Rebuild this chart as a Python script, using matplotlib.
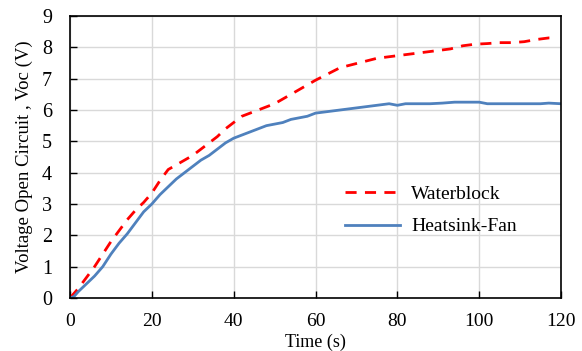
import matplotlib
matplotlib.use("Agg")
import matplotlib.pyplot as plt

# Waterblock (red dashed)
t_water = [0, 2, 4, 6, 8, 10, 12, 14, 16, 18, 20, 22, 24, 26, 28, 30, 32, 34, 36, 38, 40,
           42, 44, 46, 48, 50, 52, 54, 56, 58, 60, 63, 66, 69, 72, 75, 78, 81, 84, 87, 90,
           93, 96, 99, 102, 105, 108, 111, 114, 117, 119]
v_water = [0, 0.3, 0.65, 1.0, 1.4, 1.8, 2.15, 2.5, 2.8, 3.05, 3.35, 3.75, 4.1, 4.25, 4.4,
           4.55, 4.75, 4.95, 5.15, 5.4, 5.6, 5.8, 5.9, 6.0, 6.1, 6.2, 6.35, 6.5, 6.65, 6.8,
           6.95, 7.15, 7.35, 7.45, 7.55, 7.65, 7.7, 7.75, 7.8, 7.85, 7.9, 7.95, 8.05, 8.1,
           8.12, 8.15, 8.15, 8.18, 8.25, 8.3, 8.3]

# Heatsink-Fan (blue solid)
t_fan = [0, 1, 2, 4, 6, 8, 10, 12, 14, 16, 18, 20, 22, 24, 26, 28, 30, 32, 34, 36, 38, 40,
         42, 44, 46, 48, 50, 52, 54, 56, 58, 60, 63, 66, 69, 72, 75, 78, 80, 82, 85, 88,
         91, 94, 97, 100, 102, 105, 110, 115, 117, 120]
v_fan = [0, 0.05, 0.2, 0.45, 0.7, 1.0, 1.4, 1.75, 2.05, 2.4, 2.75, 3.0, 3.3, 3.55, 3.8,
         4.0, 4.2, 4.4, 4.55, 4.75, 4.95, 5.1, 5.2, 5.3, 5.4, 5.5, 5.55, 5.6, 5.7, 5.75,
         5.8, 5.9, 5.95, 6.0, 6.05, 6.1, 6.15, 6.2, 6.15, 6.2, 6.2, 6.2, 6.22, 6.25, 6.25,
         6.25, 6.2, 6.2, 6.2, 6.2, 6.22, 6.2]

x_ticks = [0, 20, 40, 60, 80, 100, 120]
y_ticks = [0, 1, 2, 3, 4, 5, 6, 7, 8, 9]

plt.rcParams['font.family'] = ['Liberation Serif', 'DejaVu Serif']

fig = plt.figure(figsize=(5.82, 3.51), dpi=100)
ax = fig.add_axes([70 / 582, 1 - 298 / 351, (561 - 70) / 582, (298 - 16) / 351])

ax.plot(t_water, v_water, color='#ff0000', lw=2.0, ls=(0, (4, 3)), label='Waterblock')
ax.plot(t_fan, v_fan, color='#4f81bd', lw=2.0, label='Heatsink-Fan')

ax.set_xlim(0, 120)
ax.set_ylim(0, 9)
ax.set_xticks(x_ticks)
ax.set_yticks(y_ticks)
ax.grid(True, color='#d9d9d9', lw=1.0)
ax.set_axisbelow(True)
for s in ax.spines.values():
    s.set_color('black')
    s.set_linewidth(1.2)

ax.tick_params(axis='x', direction='in', length=5, width=1, pad=11, labelsize=14)
ax.tick_params(axis='y', direction='in', length=5, width=1, pad=13, labelsize=14.5)

xl = ax.set_xlabel('Time (s)', fontsize=13)
xl.set_verticalalignment('center')
ax.xaxis.set_label_coords(0.5, (298 - 342) / 282)
ax.set_ylabel('Voltage Open Circuit , Voc (V)', fontsize=13.5, labelpad=6)

leg = ax.legend(loc='center left', bbox_to_anchor=(0.525, 0.31), frameon=False,
                fontsize=14, handlelength=2.8, handletextpad=0.6, labelspacing=0.75)

fig.savefig('out.png', dpi=100)
